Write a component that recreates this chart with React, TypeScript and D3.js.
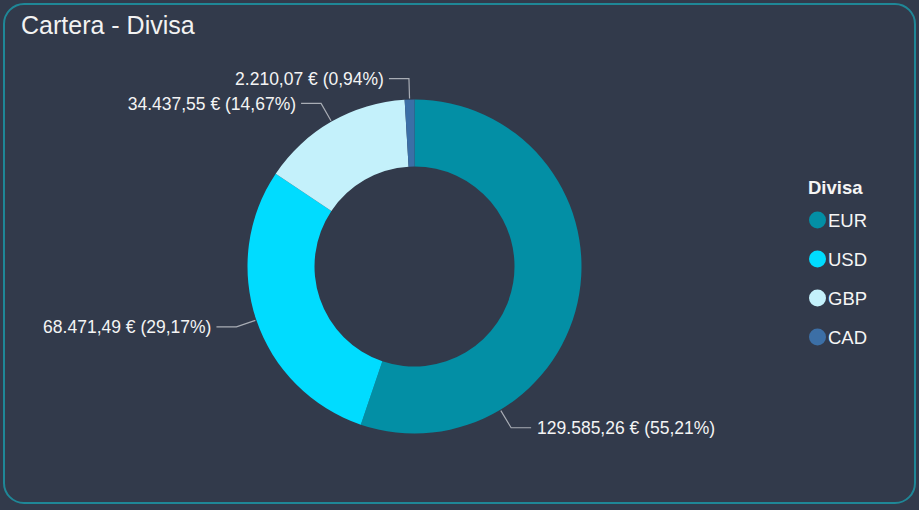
import * as d3 from 'd3';
import React from 'react';

const currencies = ['EUR', 'USD', 'GBP', 'CAD'];
const amounts = [129585.26, 68471.49, 34437.55, 2210.07];
const colors = ['#038FA5', '#00DCFF', '#C4F1FB', '#3C6FA6'];
const title = 'Cartera - Divisa';
const legendTitle = 'Divisa';

// where along each slice the leader line starts (0..1); default is the middle
const labelAnchor: Record<string, number> = { EUR: 0.75 };

const W = 919;
const H = 510;
const BG = '#323A4B';
const FONT = '"Liberation Sans", Arial, sans-serif';

const es = d3.formatLocale({ decimal: ',', thousands: '.', grouping: [3], currency: ['', ' €'] });
const fmtVal = es.format(',.2f');
const fmtPct = es.format('.2f');

export default function App() {
  const cx = 414.5;
  const cy = 266.5;
  const outerR = 167;
  const innerR = 100;
  const elbowR = 188;

  const total = d3.sum(amounts);
  const data = currencies.map((c, i) => ({ name: c, value: amounts[i], color: colors[i] }));
  const pie = d3.pie<{ name: string; value: number; color: string }>().sort(null).value((d) => d.value);
  const arcs = pie(data);
  const arc = d3.arc<d3.PieArcDatum<any>>().innerRadius(innerR).outerRadius(outerR);

  const legendY = d3.scalePoint<string>().domain(currencies).range([220, 337]);

  const polar = (a: number, r: number): [number, number] => [cx + r * Math.sin(a), cy - r * Math.cos(a)];

  return (
    <div style={{ position: 'fixed', left: 0, top: 0, width: W, height: H, background: BG }}>
      <svg width={W} height={H} style={{ display: 'block', fontFamily: FONT }}>
        <rect width={W} height={H} fill={BG} />
        <rect x={4} y={4} width={911} height={499} rx={20} ry={20} fill={BG} stroke="#1F8797" strokeWidth={2} />
        <text x={21} y={34} fill="#F2F2F2" fontSize={25}>
          {title}
        </text>

        <g>
          {arcs.map((a) => (
            <path key={a.data.name} d={arc(a) as string} transform={`translate(${cx},${cy})`} fill={a.data.color} />
          ))}
        </g>

        <g>
          {arcs.map((a) => {
            const f = labelAnchor[a.data.name] ?? 0.5;
            const ang = a.startAngle + (a.endAngle - a.startAngle) * f;
            const p0 = polar(ang, outerR + 1);
            const p1 = polar(ang, elbowR);
            const right = Math.sin(ang) > 0;
            const p2: [number, number] = [p1[0] + (right ? 20 : -20), p1[1]];
            const tx = p2[0] + (right ? 6 : -5);
            const pct = (a.data.value / total) * 100;
            return (
              <g key={a.data.name}>
                <polyline points={[p0, p1, p2].map((p) => p.join(',')).join(' ')} fill="none" stroke="#A9ADB5" strokeWidth={1.2} />
                <text x={tx} y={p2[1]} dy="0.36em" fontSize={17.5} fill="#F4F4F4" textAnchor={right ? 'start' : 'end'}>
                  {`${fmtVal(a.data.value)} € (${fmtPct(pct)}%)`}
                </text>
              </g>
            );
          })}
        </g>

        <g>
          <text x={808} y={194} fontSize={18.5} fontWeight="bold" fill="#F5F5F5">
            {legendTitle}
          </text>
          {data.map((d) => (
            <g key={d.name} transform={`translate(0,${legendY(d.name)})`}>
              <circle cx={817.5} cy={0} r={8.5} fill={d.color} />
              <text x={828} y={0} dy="0.36em" fontSize={18.5} fill="#F5F5F5">
                {d.name}
              </text>
            </g>
          ))}
        </g>
      </svg>
    </div>
  );
}
